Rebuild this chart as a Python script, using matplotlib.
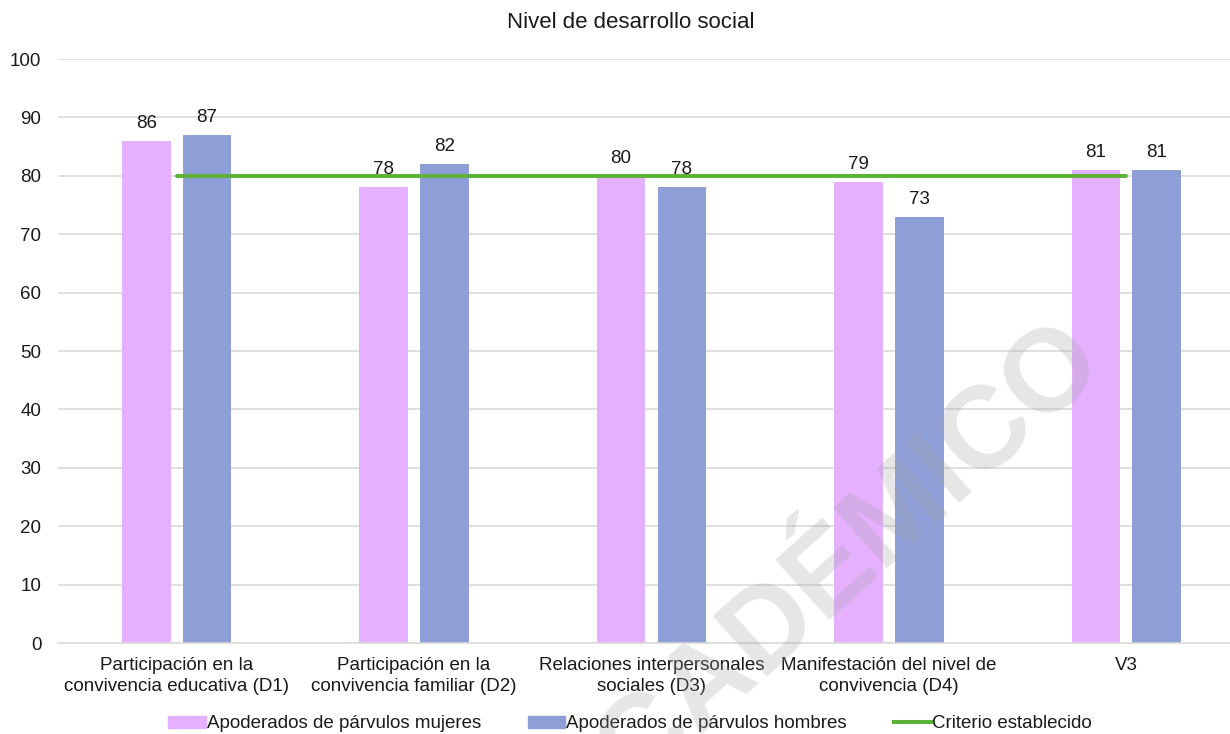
import numpy as np
import matplotlib.pyplot as plt
from matplotlib.lines import Line2D
from matplotlib.patches import Patch

# Datos del grafico
categorias = ['Participación en la\nconvivencia educativa (D1)',
              'Participación en la\nconvivencia familiar (D2)',
              'Relaciones interpersonales\nsociales (D3)',
              'Manifestación del nivel de\nconvivencia (D4)',
              'V3']
mujeres = [86, 78, 80, 79, 81]
hombres = [87, 82, 78, 73, 81]
criterio = [80, 80, 80, 80, 80]

rosa = '#E5B0FE'
azul = '#8E9FD8'
verde = '#5DB33A'

plt.rcParams['font.family'] = ['Liberation Sans', 'DejaVu Sans']

fig = plt.figure(figsize=(12.3, 7.34), dpi=100)
ax = fig.add_axes([58 / 1230, 1 - 643 / 734, 1187 / 1230, 584 / 734])

x = np.arange(len(categorias))
ancho = 0.205
b1 = ax.bar(x - 0.128, mujeres, ancho, color=rosa, zorder=2)
b2 = ax.bar(x + 0.128, hombres, ancho, color=azul, zorder=2)
ax.plot(x, criterio, color=verde, linewidth=2.9, solid_capstyle='round', zorder=3)

# Valores encima de las barras
for barras in (b1, b2):
    for barra in barras:
        ax.annotate(f'{barra.get_height():.0f}',
                    (barra.get_x() + barra.get_width() / 2, barra.get_height()),
                    xytext=(0, 6.5), textcoords='offset points',
                    ha='center', va='bottom', fontsize=13.5, color='#1a1a1a')

ax.set_xlim(-0.5, len(categorias) - 0.5)
ax.set_ylim(0, 100)
ax.set_yticks(range(0, 101, 10))
ax.set_xticks(x)
ax.set_xticklabels(categorias, fontsize=13.5, color='#1a1a1a', linespacing=1.3)
ax.tick_params(axis='y', length=0, pad=12, labelsize=13.5, labelcolor='#1a1a1a')
ax.tick_params(axis='x', length=0, pad=10)
ax.grid(axis='y', color='#DADADA', linewidth=1.2, zorder=0)
for s in ['top', 'right', 'left']:
    ax.spines[s].set_visible(False)
ax.spines['bottom'].set_color('#DADADA')
ax.spines['bottom'].set_linewidth(1.2)

fig.text(631 / 1230, 1 - 22 / 734, 'Nivel de desarrollo social', ha='center', va='center',
         fontsize=16, color='#1a1a1a')

handles = [Patch(color=rosa), Patch(color=azul), Line2D([], [], color=verde, linewidth=2.9)]
etiquetas = ['Apoderados de párvulos mujeres', 'Apoderados de párvulos hombres', 'Criterio establecido']
fig.legend(handles, etiquetas, loc='center', bbox_to_anchor=(630 / 1230, 1 - 724 / 734),
           ncol=3, frameon=False, fontsize=13.5, handlelength=2.0, handleheight=0.55,
           handletextpad=0.05, columnspacing=2.5, labelcolor='#1a1a1a')

# Marca de agua
fig.text(820 / 1230, 1 - 585 / 734, 'ACADÉMICO', rotation=42, ha='center', va='center',
         fontsize=84, fontweight='bold', color='#a0a0a0', alpha=0.26, zorder=10)

fig.savefig('out.png', dpi=100)
